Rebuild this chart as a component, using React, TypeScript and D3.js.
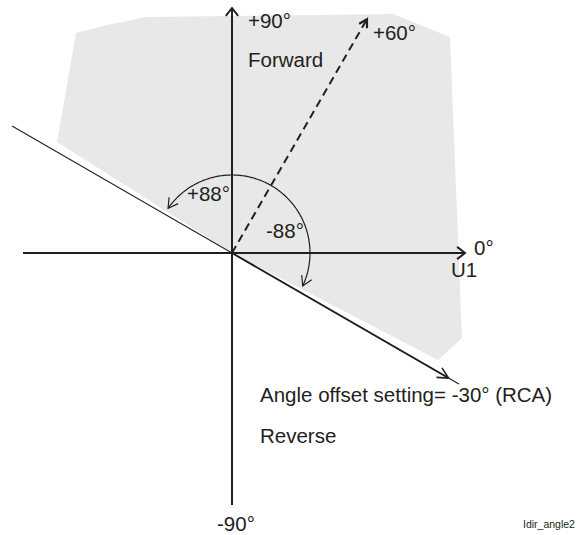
import React from "react";
import * as d3 from "d3";

// ---- data (angles in degrees, lengths in diagram units) ----
const axisAngles = [0, 90, 180, 270];
const axisLengths = [233, 245, 209, 252];
const axisHasArrow = [true, true, false, false];
const axisLabels = ["0°", "+90°", "", "-90°"];

const rcaAngle = -30; // angle offset setting (RCA)
const charAngle = 60; // characteristic angle
const opLimit = 88; // operating sector half-width

const rcaLineLengths = [262, 254]; // forward along RCA, backward
const rcaArrowLength = 250;
const charArrowLength = 270;
const arcRadius = 78;

// shaded forward region (x,y relative to origin, y up)
const shadeX = [-175, -156, -125, -85, 161, 218, 230, 206, 0];
const shadeY = [111, 220, 228, 236, 239, 216, -85, -107, 0];

const textLabels = [
  "Forward",
  "+60°",
  "+88°",
  "-88°",
  "U1",
  "Angle offset setting= -30° (RCA)",
  "Reverse",
  "Idir_angle2",
];

const W = 582;
const H = 535;
const INK = "#231f20";
const FONT = "'Liberation Sans', Arial, Helvetica, sans-serif";

const x = d3.scaleLinear().domain([-232, 350]).range([0, W]);
const y = d3.scaleLinear().domain([253, -282]).range([0, H]);
const rad = (d: number) => (d * Math.PI) / 180;
const polar = (deg: number, r: number): [number, number] => [
  x(r * Math.cos(rad(deg))),
  y(r * Math.sin(rad(deg))),
];

// chevron arrowhead: tip and screen direction (radians) of travel
function chevron(tx: number, ty: number, dir: number, len: number, half: number) {
  const a1 = dir + Math.PI - half;
  const a2 = dir + Math.PI + half;
  return `M${tx + len * Math.cos(a1)},${ty + len * Math.sin(a1)}L${tx},${ty}L${tx + len * Math.cos(a2)},${ty + len * Math.sin(a2)}`;
}
const screenDir = (deg: number) => -rad(deg);

export default function App() {
  const [ox, oy] = [x(0), y(0)];
  const line = d3.line<[number, number]>();

  const shadePts: [number, number][] = shadeX.map((v, i) => [x(v), y(shadeY[i])]);

  // arc of operating sector
  const gap = 3;
  const a0 = charAngle - opLimit + gap;
  const a1 = charAngle + opLimit - gap;
  const arcPts: [number, number][] = d3
    .range(a0, a1 + 0.001, 1)
    .map((a) => polar(a, arcRadius));
  const startPt = polar(a0, arcRadius);
  const endPt = polar(a1, arcRadius);
  const dirEnd = screenDir(a1 + 90);
  const dirStart = screenDir(a0 - 90);

  const rcaTip = polar(rcaAngle, rcaArrowLength);
  const charTip = polar(charAngle, charArrowLength);

  const t = (s: string) => textLabels.indexOf(s);

  return (
    <svg width={W} height={H} style={{ display: "block", position: "absolute", left: 0, top: 0 }}>
      <rect width={W} height={H} fill="#fff" />
      <path d={line(shadePts)! + "Z"} fill="#e8e8e8" stroke="none" />

      {/* axes */}
      {axisAngles.map((a, i) => {
        const [ex, ey] = polar(a, axisLengths[i]);
        return (
          <g key={a}>
            <line x1={ox} y1={oy} x2={ex} y2={ey} stroke={INK} strokeWidth={2} />
            {axisHasArrow[i] && (
              <path d={chevron(ex, ey, screenDir(a), 10, rad(38))} fill="none" stroke={INK} strokeWidth={2} />
            )}
          </g>
        );
      })}

      {/* RCA line */}
      <line
        x1={polar(rcaAngle + 180, rcaLineLengths[1])[0]}
        y1={polar(rcaAngle + 180, rcaLineLengths[1])[1]}
        x2={polar(rcaAngle, rcaLineLengths[0])[0]}
        y2={polar(rcaAngle, rcaLineLengths[0])[1]}
        stroke={INK}
        strokeWidth={1.1}
      />
      <line x1={ox} y1={oy} x2={rcaTip[0]} y2={rcaTip[1]} stroke={INK} strokeWidth={1.8} />
      <path d={chevron(rcaTip[0], rcaTip[1], screenDir(rcaAngle), 12, rad(27))} fill="none" stroke={INK} strokeWidth={1.6} />

      {/* characteristic angle dashed arrow */}
      <line x1={ox} y1={oy} x2={charTip[0]} y2={charTip[1]} stroke={INK} strokeWidth={2} strokeDasharray="8,5" />
      <path d={chevron(charTip[0], charTip[1], screenDir(charAngle), 9, rad(30))} fill="none" stroke={INK} strokeWidth={2.2} />

      {/* operating arc */}
      <path d={line(arcPts)!} fill="none" stroke={INK} strokeWidth={1.2} />
      <path d={chevron(endPt[0], endPt[1], dirEnd, 11, rad(30))} fill="none" stroke={INK} strokeWidth={1.2} />
      <path d={chevron(startPt[0], startPt[1], dirStart, 11, rad(30))} fill="none" stroke={INK} strokeWidth={1.2} />

      {/* labels */}
      <g fontFamily={FONT} fontSize={20.5} fill={INK}>
        <text x={polar(90, axisLengths[1])[0] + 16} y={polar(90, axisLengths[1])[1] + 20}>{axisLabels[1]}</text>
        <text x={polar(0, axisLengths[0])[0] + 9} y={oy + 2}>{axisLabels[0]}</text>
        <text x={polar(270, axisLengths[3])[0] - 15} y={polar(270, axisLengths[3])[1] + 26}>{axisLabels[3]}</text>
        <text x={ox + 16} y={67}>{textLabels[t("Forward")]}</text>
        <text x={charTip[0] + 6} y={charTip[1] + 21}>{textLabels[t("+60°")]}</text>
        <text x={ox - 45} y={oy - 52}>{textLabels[t("+88°")]}</text>
        <text x={ox + 34} y={oy - 15}>{textLabels[t("-88°")]}</text>
        <text x={polar(0, axisLengths[0])[0] - 14} y={oy + 24}>{textLabels[t("U1")]}</text>
        <text x={ox + 28} y={402}>{textLabels[t("Angle offset setting= -30° (RCA)")]}</text>
        <text x={ox + 28} y={443}>{textLabels[t("Reverse")]}</text>
      </g>
      <text x={523} y={528} fontFamily={FONT} fontSize={10.5} fill={INK}>
        {textLabels[t("Idir_angle2")]}
      </text>
    </svg>
  );
}
